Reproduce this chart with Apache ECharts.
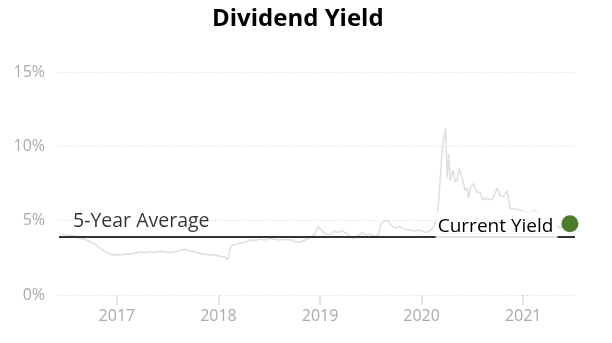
<!DOCTYPE html>
<html><head><meta charset="utf-8">
<script src="https://cdn.jsdelivr.net/npm/echarts@6/dist/echarts.min.js"></script>
<style>html,body{margin:0;padding:0;background:#fff}#c{width:612px;height:343px}</style>
</head><body><div id="c"></div>
<script>
// decimal years of each reading
const dates = [
2016.458,2016.488,2016.537,2016.586,2016.635,2016.685,2016.734,2016.783,2016.833,2016.882,2016.931,2016.980,
2017.030,2017.079,2017.128,2017.177,2017.227,2017.276,2017.325,2017.374,2017.424,2017.473,2017.522,2017.571,
2017.621,2017.670,2017.719,2017.768,2017.818,2017.867,2017.916,2017.966,2018.015,2018.064,2018.094,
2018.123,2018.163,2018.212,2018.261,2018.310,2018.360,2018.409,2018.458,2018.507,2018.557,2018.606,2018.655,
2018.704,2018.754,2018.803,2018.852,2018.901,2018.951,2018.980,2019.020,2019.059,2019.099,2019.138,2019.177,
2019.217,2019.256,2019.296,2019.335,2019.374,2019.414,2019.453,2019.493,2019.532,2019.571,2019.601,2019.640,
2019.670,2019.700,2019.739,2019.788,2019.837,2019.887,2019.936,2019.985,2020.034,2020.084,2020.113,2020.143,
2020.163,2020.182,2020.202,2020.222,2020.236,2020.251,2020.266,2020.281,2020.310,2020.330,2020.350,2020.369,
2020.399,2020.429,2020.448,2020.463,2020.478,2020.507,2020.547,2020.576,2020.606,2020.645,2020.675,2020.704,
2020.744,2020.773,2020.803,2020.842,2020.872,2020.921,2020.970,2021.020,2021.069,2021.118,2021.167,2021.217,
2021.266,2021.315,2021.365,2021.394
];
// dividend yield (%)
const yields = [
4.10,4.05,4.00,3.95,3.80,3.75,3.60,3.40,3.15,2.95,2.75,2.70,
2.70,2.75,2.75,2.80,2.90,2.85,2.90,2.85,2.95,2.90,2.85,2.90,
3.00,3.10,2.95,2.90,2.80,2.75,2.70,2.70,2.60,2.55,2.40,
3.30,3.40,3.50,3.55,3.70,3.65,3.75,3.70,3.80,3.75,3.70,3.75,
3.70,3.60,3.55,3.70,3.85,4.10,4.60,4.35,4.10,4.05,4.30,4.20,
4.35,4.15,3.95,3.80,4.00,4.20,4.05,4.10,3.95,4.00,4.80,5.00,
5.00,4.70,4.50,4.60,4.40,4.35,4.30,4.35,4.20,4.30,4.55,5.00,
6.00,7.70,9.70,10.70,11.20,7.90,9.50,7.70,8.40,7.60,7.80,8.50,
7.90,7.00,7.20,6.50,7.20,7.50,6.90,6.90,6.40,6.50,6.40,6.50,
7.20,6.70,6.60,7.00,5.80,5.80,5.70,5.60,5.50,5.70,5.40,5.20,
5.00,4.80,4.50,4.60
];
const yearTicks = [2017, 2018, 2019, 2020, 2021];
const yTicks = [0, 5, 10, 15];
const xRange = [2016.43, 2021.51];
const fiveYearAverage = 3.9;
const currentDate = 2021.46;
const currentYield = 4.8;

const FONT = "'Open Sans', 'Noto Sans', sans-serif";
const chart = echarts.init(document.getElementById('c'), null, {renderer: 'canvas'});
chart.setOption({
  animation: false,
  backgroundColor: '#fff',
  title: {
    text: 'Dividend Yield', left: 207, top: 2,
    textStyle: {fontSize: 24, fontWeight: 'bold', color: '#000', fontFamily: FONT}
  },
  grid: {left: 59, right: 37, top: 72, bottom: 48, containLabel: false},
  xAxis: {
    type: 'value', min: xRange[0], max: xRange[1],
    axisLine: {show: false},
    splitLine: {show: false},
    axisTick: {show: true, customValues: yearTicks, length: 10, lineStyle: {color: '#e2e2e2', width: 2}},
    axisLabel: {customValues: yearTicks, margin: 13, color: '#a9a9b0', fontSize: 16, fontFamily: FONT,
      formatter: v => String(Math.round(v))}
  },
  yAxis: {
    type: 'value', min: yTicks[0], max: yTicks[yTicks.length - 1], interval: 5,
    axisLine: {show: false}, axisTick: {show: false},
    axisLabel: {formatter: '{value}%', margin: 14, color: '#a9a9b0', fontSize: 16, fontFamily: FONT},
    splitLine: {lineStyle: {type: [1, 2], color: '#d8d8d8', width: 1}}
  },
  series: [
    {
      type: 'line', name: 'Yield', data: dates.map((d, i) => [d, yields[i]]),
      showSymbol: false, symbol: 'none', silent: true, z: 2,
      lineStyle: {color: '#e0e0e0', width: 1.6}
    },
    {
      type: 'line', name: 'Average', data: [[xRange[0], fiveYearAverage], [xRange[1], fiveYearAverage]],
      showSymbol: false, symbol: 'none', silent: true, z: 3,
      lineStyle: {color: '#333', width: 2}
    },
    {
      type: 'scatter', name: 'AvgLabel', data: [[xRange[0], fiveYearAverage]], symbolSize: 0, z: 4, silent: true,
      label: {show: true, position: 'right', distance: 12, offset: [0, -16], formatter: '5-Year Average',
        color: '#000', fontSize: 19.5, fontFamily: FONT,
        backgroundColor: 'rgba(255,255,255,0.85)', padding: [2, 2, 2, 2]}
    },
    {
      type: 'scatter', name: 'Current', data: [[currentDate, currentYield]], symbolSize: 17, z: 5, silent: true,
      itemStyle: {color: '#4c7b2c', opacity: 1},
      label: {show: true, position: 'left', distance: 4, offset: [0, 3], formatter: 'Current Yield',
        color: '#000', fontSize: 19, fontFamily: FONT,
        backgroundColor: 'rgba(255,255,255,0.85)', padding: [3, 4, 9, 2]}
    }
  ]
});
</script>
</body></html>
